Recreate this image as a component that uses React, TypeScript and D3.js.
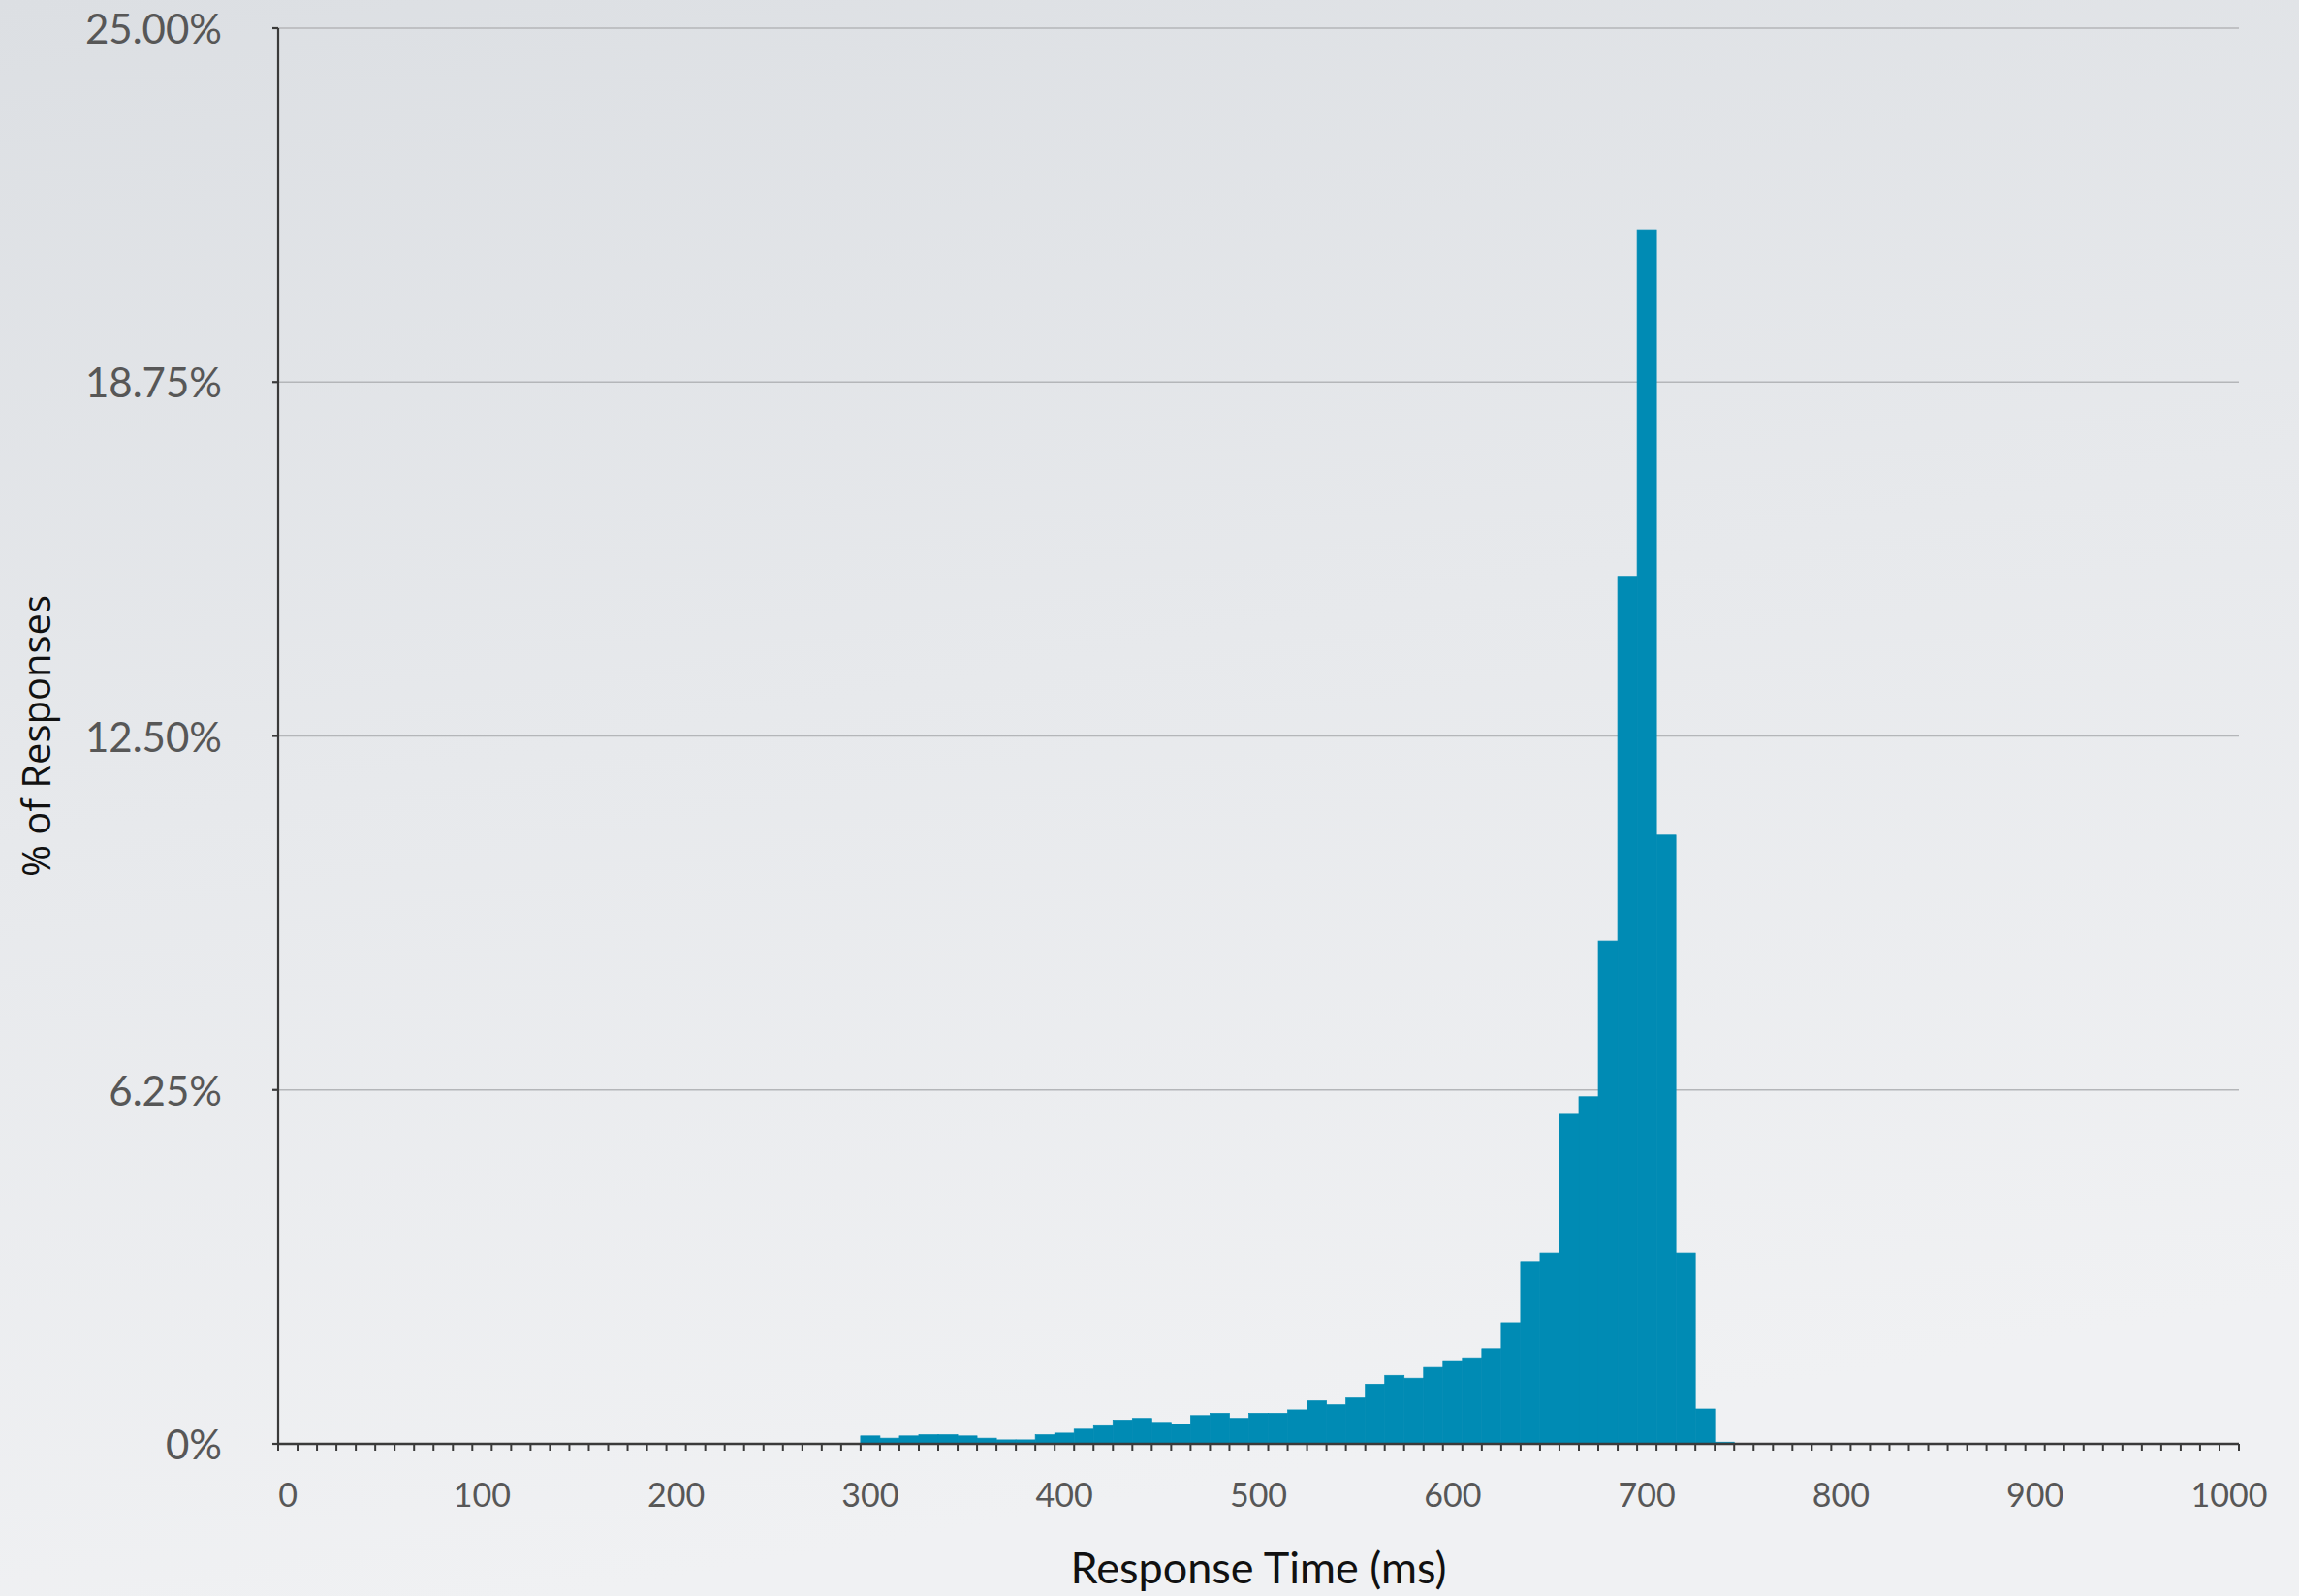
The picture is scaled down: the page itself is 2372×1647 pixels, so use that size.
import React, { useEffect } from "react";
import * as d3 from "d3";

// ---- data ----
const binStarts: number[] = d3.range(0, 1001, 10); // histogram bins (ms), 10ms wide
const filledBins: number[] = [
  300, 310, 320, 330, 340, 350, 360, 370, 380, 390,
  400, 410, 420, 430, 440, 450, 460, 470, 480, 490,
  500, 510, 520, 530, 540, 550, 560, 570, 580, 590,
  600, 610, 620, 630, 640, 650, 660, 670, 680, 690,
  700, 710, 720, 730, 740,
];
const percentResponses: number[] = [
  0.14, 0.10, 0.14, 0.16, 0.16, 0.14, 0.10, 0.07, 0.07, 0.16,
  0.19, 0.26, 0.32, 0.42, 0.45, 0.38, 0.35, 0.50, 0.54, 0.45,
  0.54, 0.54, 0.60, 0.76, 0.69, 0.81, 1.055, 1.21, 1.16, 1.35,
  1.47, 1.52, 1.68, 2.14, 3.22, 3.37, 5.82, 6.13, 8.88, 15.32,
  21.44, 10.75, 3.37, 0.616, 0.03,
];
const yTicks: number[] = [0, 6.25, 12.5, 18.75, 25];
const yTickLabels: string[] = ["0%", "6.25%", "12.50%", "18.75%", "25.00%"];
const xLabelEvery = 100;

const W = 2372;
const H = 1647;
const FONT = "Lato, 'Open Sans', sans-serif";
const BAR = "#008bb4";

export default function App() {
  useEffect(() => {
    document.body.style.margin = "0";
  }, []);

  const x = d3.scaleBand<number>().domain(binStarts).range([287, 2310]).padding(0);
  const y = d3.scaleLinear().domain([0, 25]).range([1490, 29]);
  const bw = x.bandwidth();
  const [x0, x1] = x.range();

  const boundaries = binStarts.map((b) => x(b) as number).concat([x1]);

  return (
    <svg width={W} height={H} style={{ display: "block" }}>
      <defs>
        <linearGradient id="bg" x1="0" y1="0" x2="0.25" y2="1">
          <stop offset="0" stopColor="#dcdfe3" />
          <stop offset="0.5" stopColor="#e7e9ec" />
          <stop offset="1" stopColor="#f0f1f3" />
        </linearGradient>
      </defs>
      <rect x={0} y={0} width={W} height={H} fill="url(#bg)" />

      {/* gridlines */}
      {yTicks.slice(1).map((t) => (
        <line key={"g" + t} x1={x0} x2={x1} y1={y(t)} y2={y(t)} stroke="#b4b6b9" strokeWidth={1.6} />
      ))}

      {/* bars */}
      {filledBins.map((b, i) => (
        <rect
          key={"b" + b}
          x={x(b) as number}
          y={y(percentResponses[i])}
          width={bw}
          height={y(0) - y(percentResponses[i])}
          fill={BAR}
          stroke={BAR}
          strokeWidth={0.7}
        />
      ))}

      {/* y axis */}
      <line x1={x0} x2={x0} y1={y(25)} y2={y(0)} stroke="#3a3a3a" strokeWidth={2.2} />
      {yTicks.map((t) => (
        <line key={"yt" + t} x1={x0 - 6} x2={x0} y1={y(t)} y2={y(t)} stroke="#3a3a3a" strokeWidth={2.2} />
      ))}
      {yTicks.map((t, i) => (
        <text
          key={"yl" + t}
          x={229}
          y={y(t)}
          textAnchor="end"
          dominantBaseline="central"
          fontFamily={FONT}
          fontSize={42}
          fill="#575757"
        >
          {yTickLabels[i]}
        </text>
      ))}

      {/* x axis */}
      <line x1={x0} x2={x1} y1={y(0)} y2={y(0)} stroke="#3a3a3a" strokeWidth={2.4} />
      {boundaries.map((bx, i) => (
        <line key={"xt" + i} x1={bx} x2={bx} y1={y(0)} y2={y(0) + 7} stroke="#3a3a3a" strokeWidth={2} />
      ))}
      {binStarts
        .filter((b) => b % xLabelEvery === 0)
        .map((b) => (
          <text
            key={"xl" + b}
            x={(x(b) as number) + bw / 2}
            y={1555}
            textAnchor="middle"
            fontFamily={FONT}
            fontSize={34}
            fill="#575757"
          >
            {b}
          </text>
        ))}

      {/* axis titles */}
      <text
        x={(x0 + x1) / 2}
        y={1634}
        textAnchor="middle"
        fontFamily={FONT}
        fontSize={45}
        fill="#111"
      >
        Response Time (ms)
      </text>
      <text
        transform={`translate(52, ${(y(0) + y(25)) / 2}) rotate(-90)`}
        textAnchor="middle"
        fontFamily="'Open Sans', sans-serif"
        fontSize={40}
        fill="#111"
      >
        % of Responses
      </text>
    </svg>
  );
}
